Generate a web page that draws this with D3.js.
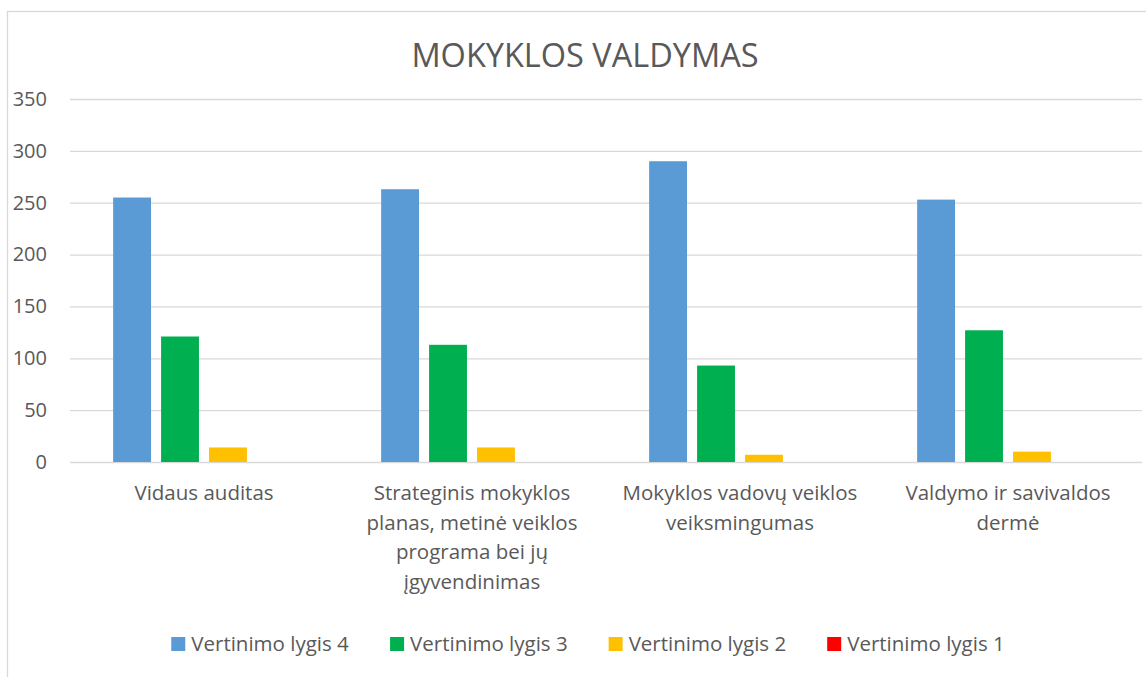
<!DOCTYPE html>
<html>
<head>
<meta charset="utf-8">
<script src="https://cdn.jsdelivr.net/npm/d3@7"></script>
<style>
  body { margin: 0; background: #fff; }
  text { font-family: "Open Sans", sans-serif; fill: #595959; }
</style>
</head>
<body>
<script>
// chart data
var title = "MOKYKLOS VALDYMAS";
var categoryLines = [
    ["Vidaus auditas"],
    ["Strateginis mokyklos", "planas, metinė veiklos", "programa bei jų", "įgyvendinimas"],
    ["Mokyklos vadovų veiklos", "veiksmingumas"],
    ["Valdymo ir savivaldos", "dermė"]
];
var seriesNames = ["Vertinimo lygis 4", "Vertinimo lygis 3", "Vertinimo lygis 2", "Vertinimo lygis 1"];
var seriesColors = ["#5b9bd5", "#00b050", "#ffc000", "#ff0000"];
var level4 = [255, 263, 290, 253];
var level3 = [121, 113, 93, 127];
var level2 = [14, 14, 7, 10];
var level1 = [0, 0, 0, 0];
var yTicks = [0, 50, 100, 150, 200, 250, 300, 350];

var seriesValues = [level4, level3, level2, level1];

function drawChart () {
    var width = 1146,
        height = 677;

    var svg = d3.select("body").append("svg")
        .attr("width", width)
        .attr("height", height);

    // chart frame
    svg.append("rect")
        .attr("x", 7.5)
        .attr("y", 11.5)
        .attr("width", width + 20)
        .attr("height", height + 20)
        .style("fill", "none")
        .style("stroke", "#d9d9d9")
        .style("stroke-width", 1.3);

    // title
    svg.append("text")
        .attr("x", 585)
        .attr("y", 67)
        .attr("text-anchor", "middle")
        .style("font-size", "32.5px")
        .text(title);

    var plotLeft = 70, plotRight = 1142;

    var x0 = d3.scaleBand()
        .domain(d3.range(categoryLines.length))
        .range([plotLeft, plotRight]);

    var x1 = d3.scaleBand()
        .domain(d3.range(seriesNames.length))
        .range([0, x0.bandwidth()])
        .paddingInner(0.21)
        .paddingOuter(0.9);

    var y = d3.scaleLinear()
        .domain([0, 350])
        .range([462, 99]);

    // gridlines + tick labels
    var yAxis = d3.axisLeft(y)
        .tickValues(yTicks)
        .tickSize(-(plotRight - plotLeft))
        .tickPadding(23);

    var gy = svg.append("g")
        .attr("transform", "translate(" + plotLeft + ",0)")
        .call(yAxis);
    gy.select(".domain").remove();
    gy.selectAll(".tick line")
        .style("stroke", "#d9d9d9")
        .style("stroke-width", 1.3);
    gy.selectAll(".tick text")
        .style("font-size", "20px")
        .style("fill", "#595959")
        .style("font-family", "'Open Sans', sans-serif");

    // bars
    var groups = svg.append("g")
        .selectAll("g")
        .data(seriesValues)
        .enter().append("g")
        .style("fill", function(d, i) { return seriesColors[i]; });

    groups.each(function(vals, si) {
        d3.select(this).selectAll("rect")
            .data(vals)
            .enter().append("rect")
            .attr("x", function(d, ci) { return x0(ci) + x1(si); })
            .attr("width", x1.bandwidth())
            .attr("y", function(d) { return y(d); })
            .attr("height", function(d) { return y(0) - y(d); });
    });

    // category labels
    var labels = svg.append("g")
        .selectAll("text")
        .data(categoryLines)
        .enter().append("text")
        .attr("text-anchor", "middle")
        .style("font-size", "20.5px");

    labels.each(function(lines, ci) {
        var cx = x0(ci) + x0.bandwidth() / 2;
        d3.select(this).selectAll("tspan")
            .data(lines)
            .enter().append("tspan")
            .attr("x", cx)
            .attr("y", function(d, li) { return 500 + li * 29.5; })
            .text(function(d) { return d; });
    });

    // legend
    var legend = svg.append("g");
    var items = legend.selectAll("g")
        .data(seriesNames)
        .enter().append("g");
    items.append("rect")
        .attr("width", 14)
        .attr("height", 14)
        .attr("y", 637)
        .style("fill", function(d, i) { return seriesColors[i]; });
    items.append("text")
        .attr("x", 20)
        .attr("y", 651)
        .style("font-size", "20.5px")
        .text(function(d) { return d; });

    var offsets = [], total = 0;
    items.each(function(d, i) {
        var w = this.getBBox().width;
        offsets.push(total);
        total += w + (i < seriesNames.length - 1 ? 41 : 0);
    });
    var startX = 588 - total / 2;
    items.attr("transform", function(d, i) { return "translate(" + (startX + offsets[i]) + ",0)"; });
}

drawChart();
</script>
</body>
</html>
